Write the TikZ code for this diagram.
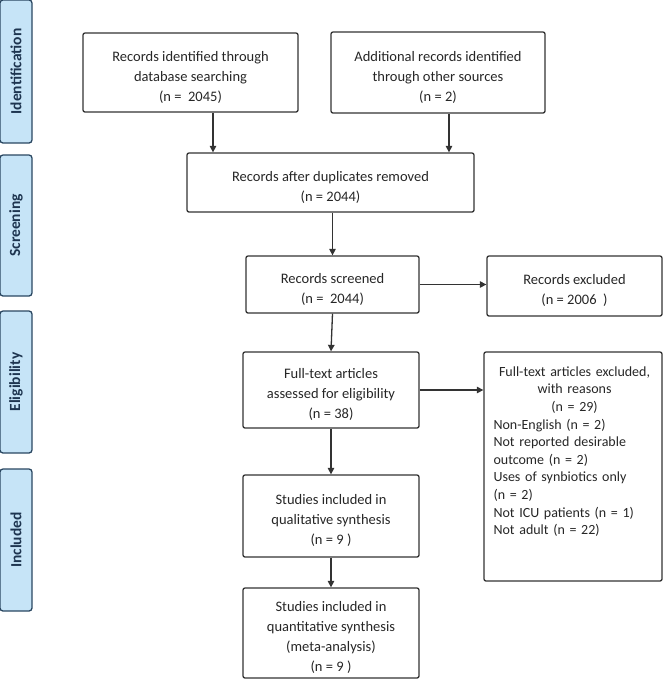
\documentclass[tikz,border=0pt]{standalone}
\usepackage{fontspec}
\setmainfont{Carlito}
\usetikzlibrary{arrows.meta,calc}
\definecolor{tabfill}{HTML}{C6E4F7}
\definecolor{tabline}{HTML}{2A4761}
\definecolor{tabtext}{HTML}{1E3550}
\definecolor{boxline}{HTML}{333333}
\definecolor{txt}{HTML}{262626}
\newcommand{\btxt}[1]{\raisebox{-4.5pt}[\height][\depth]{\begin{tabular}{@{}c@{}}#1\end{tabular}}}
\tikzset{
  tab/.style={draw=tabline, fill=tabfill, line width=1.3pt, rounded corners=3pt, minimum width=32pt, inner sep=0pt},
  tablabel/.style={rotate=90, text=tabtext, font=\fontsize{15.5}{18}\selectfont\bfseries},
  box/.style={draw=boxline, line width=1.3pt, rounded corners=2pt, text=txt, inner sep=0pt, font=\fontsize{14.5}{20}\selectfont},
  arr/.style={draw=boxline, line width=1.3pt, -{Triangle[length=6.5pt,width=6.5pt]}}
}
\begin{document}
\begin{tikzpicture}[x=1pt,y=-1pt]
\useasboundingbox (0,0) rectangle (663,689);
% phase tabs
\node[tab, minimum height=143pt] (t1) at (16,71.5) {};
\node[tablabel] at (t1.center) {Identification};
\node[tab, minimum height=141pt] (t2) at (16,225.5) {};
\node[tablabel] at (t2.center) {Screening};
\node[tab, minimum height=142pt] (t3) at (16,382) {};
\node[tablabel] at (t3.center) {Eligibility};
\node[tab, minimum height=142pt] (t4) at (16,540) {};
\node[tablabel] at (t4.center) {Included};
% boxes
\node[box, minimum width=215pt, minimum height=79pt] (b1) at (190.5,72.5) {\btxt{Records identified through\\database searching\\(n =\ \ 2045)}};
\node[box, minimum width=214pt, minimum height=81pt] (b2) at (438,72.5) {\btxt{Additional records identified\\through other sources\\(n = 2)}};
\node[box, minimum width=287pt, minimum height=59pt] (b3) at (330.5,182.5) {\btxt{Records after duplicates removed\\(n = 2044)}};
\node[box, minimum width=173pt, minimum height=57pt] (b4) at (332.5,284.5) {\btxt{Records screened\\(n =\ \ 2044)}};
\node[box, minimum width=175pt, minimum height=60pt] (b5) at (574.5,286) {\btxt{Records excluded\\(n = 2006\ \ )}};
\node[box, minimum width=176pt, minimum height=76pt] (b6) at (331,390) {\btxt{Full-text articles\\assessed for eligibility\\(n = 38)}};
\node[box, minimum width=178pt, minimum height=229pt] (b7) at (573,466.5) {};
\node[anchor=north west, inner sep=0pt, text=txt, text width=162pt, font=\fontsize{14}{17.6}\selectfont] (b7t) at ($(b7.north west)+(10,15)$)
 {{\centering Full-text articles excluded,\\ with reasons\\ (n = 29)\par}
  \raggedright Non-English (n = 2)\\ Not reported desirable\\ outcome (n = 2)\\ Uses of synbiotics only\\ (n = 2)\\ Not ICU patients (n = 1)\\ Not adult (n = 22)};
\node[box, minimum width=176pt, minimum height=82pt] (b8) at (331,516) {\btxt{Studies included in\\qualitative synthesis\\(n = 9\ )}};
\node[box, minimum width=176pt, minimum height=90pt] (b9) at (331,633) {\btxt{Studies included in\\quantitative synthesis\\(meta-analysis)\\(n = 9\ )}};
% connectors
\coordinate (c1) at (213,112);
\coordinate (c2) at (449,113);
\draw[arr] (c1 |- b1.south) -- (c1 |- b3.north);
\draw[arr] (c2 |- b2.south) -- (c2 |- b3.north);
\draw[arr] (b3.south -| b4.north) -- (b4.north);
\draw[arr] (b4.south) -- (b6.north);
\draw[arr] (b4.east) -- (b4.east -| b5.west);
\draw[arr] (b6.east) -- (b6.east -| b7.west);
\draw[arr] (b6.south) -- (b8.north);
\draw[arr] (b8.south) -- (b9.north);
\end{tikzpicture}
\end{document}
